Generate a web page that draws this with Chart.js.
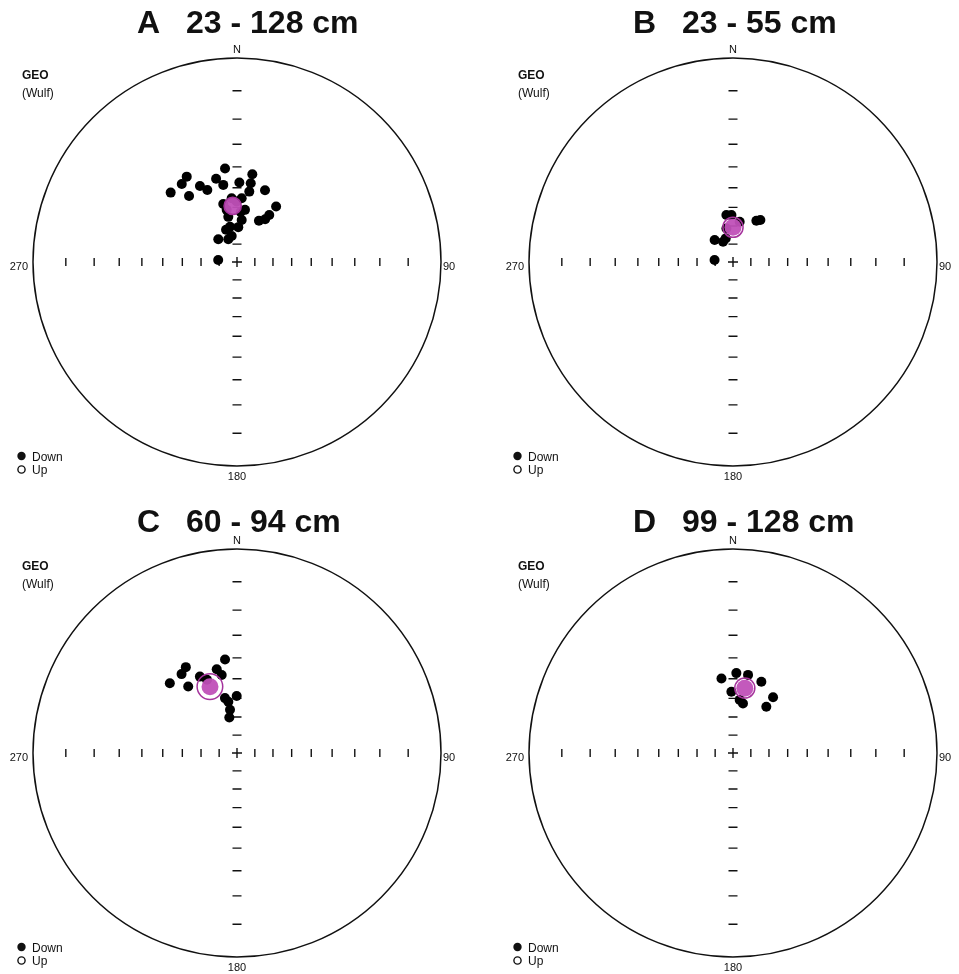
<!DOCTYPE html>
<html>
<head>
<meta charset="utf-8">
<script src="https://cdn.jsdelivr.net/npm/chart.js@4.4.1/dist/chart.umd.min.js"></script>
<style>
html, body { margin: 0; padding: 0; background: #fff; }
#wrap { position: relative; width: 959px; height: 974px; overflow: hidden; }
canvas { position: absolute; }
</style>
</head>
<body>
<div id="wrap">
  <canvas id="pA" width="463" height="483" style="left:0px;top:0px"></canvas>
  <canvas id="pB" width="463" height="483" style="left:496px;top:0px"></canvas>
  <canvas id="pC" width="463" height="483" style="left:0px;top:491px"></canvas>
  <canvas id="pD" width="463" height="483" style="left:496px;top:491px"></canvas>
</div>
<script>
// inclination ticks along the N-S and E-W axes (every 10 deg)
var tickInc = [80, 70, 60, 50, 40, 30, 20, 10]

var panelLetters = ['A', 'B', 'C', 'D']
var depthRanges = ['23 - 128 cm', '23 - 55 cm', '60 - 94 cm', '99 - 128 cm']

// specimen directions (declination / inclination, all lower hemisphere)
var decA = [352.7, 329.5, 324.7, 316.3, 324.0, 334.0, 337.6, 345.9, 349.9, 1.7, 9.9, 9.9, 9.9, 21.3, 4.2, 346.7,
            8.7, 349.1, 6.4, 348.8, 2.1, 28.0, 33.3, 34.5, 35.2, 320.5, 339.0, 348.5, 276.1, 348.8, 359.7, 355.2, 4.2, 341.3]
var incA = [40.4, 38.2, 39.8, 39.6, 46.4, 45.0, 48.2, 44.4, 48.0, 47.4, 42.8, 47.2, 51.4, 48.6, 55.2, 57.4,
            61.0, 64.6, 66.6, 70.0, 70.6, 64.2, 61.8, 58.8, 53.2, 73.6, 76.4, 75.2, 79.4, 60.8, 57.0, 55.2, 62.4, 71.0]

var decB = [352.0, 358.1, 9.4, 29.5, 33.1, 348.9, 320.2, 333.8, 342.9, 276.2]
var incB = [63.8, 64.1, 67.4, 63.8, 62.4, 71.0, 74.0, 77.4, 76.2, 79.6]

var decC = [352.7, 329.2, 324.9, 316.1, 323.7, 334.1, 346.4, 348.9, 347.6, 350.4, 359.7, 350.8, 347.8, 337.7]
var incC = [40.4, 37.8, 39.4, 39.2, 46.0, 44.8, 44.2, 47.4, 59.2, 61.4, 58.8, 65.8, 69.8, 47.6]

var decD = [351.2, 2.4, 10.9, 21.7, 358.5, 7.2, 11.4, 35.7, 35.8]
var incD = [49.4, 47.2, 47.4, 48.8, 56.6, 60.6, 62.2, 52.8, 58.8]

// Fisher means and alpha95 per panel
var meanDec = [355.6, 0.0, 337.8, 10.3]
var meanInc = [59.2, 70.7, 51.4, 54.2]
var alpha95 = [4.5, 5.5, 6.4, 5.1]

var allDec = [decA, decB, decC, decD]
var allInc = [incA, incB, incC, incD]

var FONT = "'Liberation Sans', Arial, Helvetica, sans-serif"
var MAGENTA = 'rgba(192, 80, 184, 0.95)'
var RING = '#a5339c'

// Wulff (equal angle) projection, radius 1 = horizontal
function projR(inc) {
    return Math.tan((90 - Math.abs(inc)) / 2 * Math.PI / 180)
}
function proj(dec, inc) {
    var r = projR(inc)
    var d = dec * Math.PI / 180
    return { x: r * Math.sin(d), y: r * Math.cos(d) }
}

var stereoPlugin = {
    id: 'stereo',
    beforeDatasetsDraw: function (chart, args, opts) {
        var ctx = chart.ctx
        var sx = chart.scales.x, sy = chart.scales.y
        var cx = sx.getPixelForValue(0), cy = sy.getPixelForValue(0)
        var R = sx.getPixelForValue(1) - cx

        ctx.save()
        // primitive circle
        ctx.strokeStyle = '#111'
        ctx.lineWidth = 1.5
        ctx.beginPath()
        ctx.arc(cx, cy, R, 0, 2 * Math.PI)
        ctx.stroke()

        // axis ticks
        ctx.lineWidth = 1.4
        ctx.beginPath()
        tickInc.forEach(function (inc) {
            var d = sx.getPixelForValue(projR(inc)) - cx
            ctx.moveTo(cx + d, cy - 4); ctx.lineTo(cx + d, cy + 4)
            ctx.moveTo(cx - d, cy - 4); ctx.lineTo(cx - d, cy + 4)
            ctx.moveTo(cx - 4.5, cy - d); ctx.lineTo(cx + 4.5, cy - d)
            ctx.moveTo(cx - 4.5, cy + d); ctx.lineTo(cx + 4.5, cy + d)
        })
        // centre cross
        ctx.moveTo(cx - 5, cy); ctx.lineTo(cx + 5, cy)
        ctx.moveTo(cx, cy - 5); ctx.lineTo(cx, cy + 5)
        ctx.stroke()

        // compass labels
        ctx.fillStyle = '#111'
        ctx.font = '11px ' + FONT
        ctx.textBaseline = 'alphabetic'
        ctx.textAlign = 'center'
        ctx.fillText('N', cx, cy - R - 5)
        ctx.fillText('180', cx, cy + R + 14)
        ctx.textAlign = 'right'
        ctx.fillText('270', cx - R - 5, cy + 8)
        ctx.textAlign = 'left'
        ctx.fillText('90', cx + R + 2, cy + 8)

        // GEO (Wulf)
        ctx.font = 'bold 12px ' + FONT
        ctx.fillText('GEO', cx - 215, cy - 183)
        ctx.font = '12px ' + FONT
        ctx.fillText('(Wulf)', cx - 215, cy - 165)

        // legend
        ctx.beginPath()
        ctx.arc(cx - 215.5, cy + 194, 4.2, 0, 2 * Math.PI)
        ctx.fill()
        ctx.beginPath()
        ctx.lineWidth = 1.4
        ctx.arc(cx - 215.5, cy + 207.5, 3.6, 0, 2 * Math.PI)
        ctx.stroke()
        ctx.font = '12px ' + FONT
        ctx.fillText('Down', cx - 205, cy + 199)
        ctx.fillText('Up', cx - 205, cy + 212)

        // title
        ctx.font = 'bold 32px ' + FONT
        ctx.fillText(opts.letter, cx - 100, cy - opts.titleDy)
        ctx.fillText(opts.range, cx - 51, cy - opts.titleDy)
        ctx.restore()
    },
    afterDatasetsDraw: function (chart, args, opts) {
        // alpha95 confidence circle around the mean
        var ctx = chart.ctx
        var sx = chart.scales.x, sy = chart.scales.y
        var p1 = proj(opts.dec, Math.min(opts.inc + opts.a95, 90))
        var p2 = proj(opts.dec, opts.inc - opts.a95)
        var x1 = sx.getPixelForValue(p1.x), y1 = sy.getPixelForValue(p1.y)
        var x2 = sx.getPixelForValue(p2.x), y2 = sy.getPixelForValue(p2.y)
        var r = Math.sqrt((x2 - x1) * (x2 - x1) + (y2 - y1) * (y2 - y1)) / 2
        ctx.save()
        ctx.strokeStyle = RING
        ctx.lineWidth = 1.5
        ctx.beginPath()
        ctx.arc((x1 + x2) / 2, (y1 + y2) / 2, r, 0, 2 * Math.PI)
        ctx.stroke()
        ctx.restore()
    }
}

var ids = ['pA', 'pB', 'pC', 'pD']
var titleDy = [229, 229, 221, 221]

ids.forEach(function (id, i) {
    var pts = allDec[i].map(function (d, k) { return proj(d, allInc[i][k]) })
    var mean = proj(meanDec[i], meanInc[i])

    new Chart(document.getElementById(id).getContext('2d'), {
        type: 'scatter',
        data: {
            datasets: [{
                // mean direction drawn on top
                data: [mean],
                order: 0,
                pointRadius: 8.5,
                pointBackgroundColor: MAGENTA,
                pointBorderWidth: 0
            }, {
                data: pts,
                order: 1,
                pointRadius: 5,
                pointBackgroundColor: '#000',
                pointBorderWidth: 0
            }]
        },
        options: {
            responsive: false,
            maintainAspectRatio: false,
            animation: false,
            devicePixelRatio: 1,
            layout: { padding: { left: 33, right: 22, top: 58, bottom: 17 } },
            scales: {
                x: { type: 'linear', min: -1, max: 1, display: false },
                y: { type: 'linear', min: -1, max: 1, display: false }
            },
            plugins: {
                legend: { display: false },
                tooltip: { enabled: false },
                stereo: {
                    letter: panelLetters[i],
                    range: depthRanges[i],
                    titleDy: titleDy[i],
                    dec: meanDec[i],
                    inc: meanInc[i],
                    a95: alpha95[i]
                }
            }
        },
        plugins: [stereoPlugin]
    })
})
</script>
</body>
</html>
